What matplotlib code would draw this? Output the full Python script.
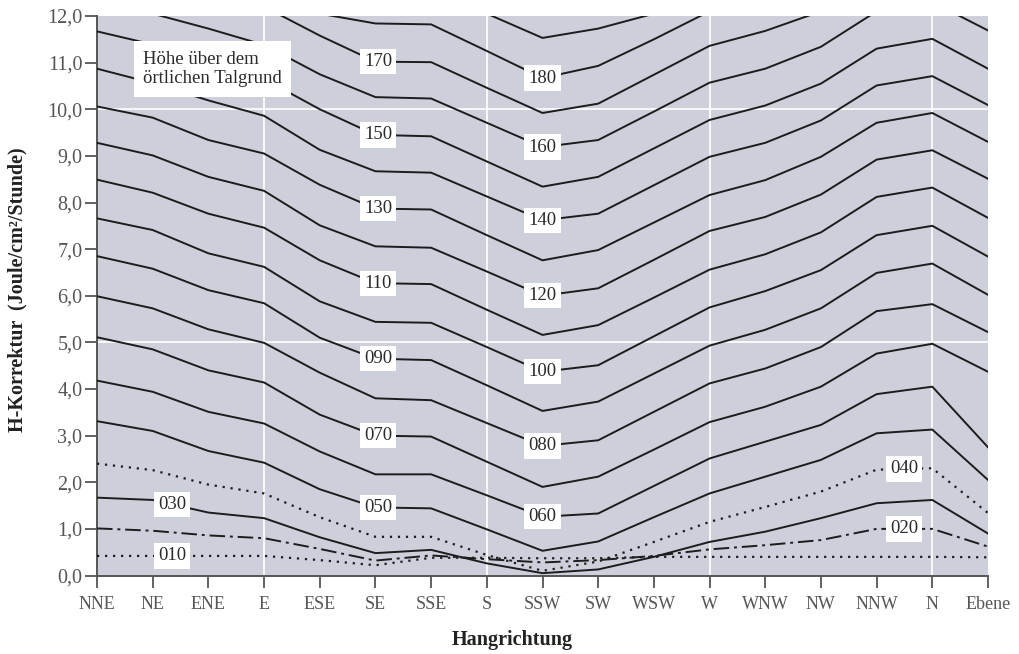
import numpy as np
import matplotlib.pyplot as plt

# Hangrichtungen (x-Achse)
richtungen = ['NNE', 'NE', 'ENE', 'E', 'ESE', 'SE', 'SSE', 'S', 'SSW',
              'SW', 'WSW', 'W', 'WNW', 'NW', 'NNW', 'N', 'Ebene']

# H-Korrektur je Höhenstufe über dem Talgrund (Joule/cm2/Stunde)
h010 = [0.42, 0.42, 0.42, 0.42, 0.33, 0.22, 0.38, 0.38, 0.37, 0.37, 0.40, 0.40, 0.40, 0.40, 0.40, 0.40, 0.39]
h020 = [1.01, 0.96, 0.86, 0.80, 0.57, 0.32, 0.43, 0.35, 0.28, 0.33, 0.42, 0.56, 0.65, 0.76, 1.00, 1.00, 0.62]
h030 = [1.67, 1.62, 1.35, 1.23, 0.82, 0.48, 0.55, 0.26, 0.05, 0.13, 0.40, 0.72, 0.94, 1.23, 1.55, 1.62, 0.90]
h040 = [2.40, 2.26, 1.95, 1.76, 1.25, 0.83, 0.83, 0.44, 0.10, 0.30, 0.72, 1.15, 1.47, 1.80, 2.27, 2.30, 1.34]
h050 = [3.31, 3.10, 2.67, 2.42, 1.85, 1.46, 1.44, 0.99, 0.53, 0.73, 1.25, 1.76, 2.12, 2.48, 3.05, 3.13, 2.05]
h060 = [4.18, 3.94, 3.51, 3.26, 2.66, 2.17, 2.17, 1.72, 1.26, 1.33, 1.92, 2.51, 2.87, 3.23, 3.89, 4.05, 2.75]
h070 = [5.11, 4.85, 4.40, 4.14, 3.45, 3.00, 2.98, 2.44, 1.90, 2.12, 2.70, 3.29, 3.62, 4.05, 4.76, 4.97, 4.37]
h080 = [5.99, 5.73, 5.28, 4.99, 4.35, 3.80, 3.76, 3.27, 2.78, 2.90, 3.51, 4.12, 4.44, 4.90, 5.67, 5.82, 5.22]
h090 = [6.85, 6.58, 6.12, 5.84, 5.10, 4.65, 4.62, 4.08, 3.53, 3.73, 4.33, 4.93, 5.27, 5.73, 6.49, 6.69, 6.02]
h100 = [7.66, 7.41, 6.91, 6.62, 5.88, 5.44, 5.42, 4.90, 4.37, 4.51, 5.13, 5.75, 6.10, 6.55, 7.30, 7.50, 6.84]
h110 = [8.49, 8.21, 7.76, 7.46, 6.76, 6.27, 6.25, 5.70, 5.16, 5.37, 5.96, 6.56, 6.89, 7.36, 8.12, 8.32, 7.67]
h120 = [9.28, 9.01, 8.55, 8.25, 7.51, 7.06, 7.03, 6.52, 6.00, 6.16, 6.77, 7.39, 7.69, 8.17, 8.92, 9.12, 8.51]
h130 = [10.06, 9.82, 9.34, 9.05, 8.38, 7.87, 7.85, 7.30, 6.76, 6.98, 7.57, 8.16, 8.48, 8.98, 9.71, 9.92, 9.30]
h140 = [10.87, 10.56, 10.19, 9.86, 9.13, 8.67, 8.64, 8.13, 7.62, 7.76, 8.37, 8.98, 9.28, 9.76, 10.51, 10.71, 10.09]
h150 = [11.67, 11.39, 10.97, 10.65, 10.00, 9.45, 9.42, 8.88, 8.34, 8.55, 9.16, 9.77, 10.08, 10.55, 11.30, 11.51, 10.87]
h160 = [12.45, 12.05, 11.73, 11.38, 10.75, 10.26, 10.23, 9.71, 9.19, 9.34, 9.95, 10.57, 10.87, 11.34, 12.10, 12.30, 11.69]
h170 = [13.20, 12.85, 12.50, 12.20, 11.58, 11.02, 11.01, 10.46, 9.92, 10.12, 10.74, 11.36, 11.68, 12.10, 12.90, 13.10, 12.50]
h180 = [14.00, 13.60, 13.30, 12.75, 12.05, 11.84, 11.82, 11.25, 10.67, 10.93, 11.50, 12.10, 12.45, 12.90, 13.70, 13.90, 13.30]
h190 = [14.80, 14.40, 14.00, 13.60, 13.00, 12.65, 12.60, 12.05, 11.53, 11.73, 12.05, 12.80, 13.10, 13.60, 14.30, 14.50, 13.90]

hoehen = ['010', '020', '030', '040', '050', '060', '070', '080', '090', '100',
          '110', '120', '130', '140', '150', '160', '170', '180', '190']
kurven = [h010, h020, h030, h040, h050, h060, h070, h080, h090, h100,
          h110, h120, h130, h140, h150, h160, h170, h180, h190]

# Beschriftete Kurven und ihre x-Position (Index der Richtung)
etiketten = [('010', 1.35), ('030', 1.35), ('020', 14.49), ('040', 14.49),
             ('050', 5.05), ('070', 5.05), ('090', 5.05), ('110', 5.05),
             ('130', 5.05), ('150', 5.05), ('170', 5.05),
             ('060', 8.0), ('080', 8.0), ('100', 8.0), ('120', 8.0),
             ('140', 8.0), ('160', 8.0), ('180', 8.0)]

plt.rcParams['font.family'] = ['Liberation Serif', 'DejaVu Serif']

fig = plt.figure(figsize=(10.19, 6.54), dpi=100)
ax = fig.add_axes([97 / 1019, 78.5 / 654, 891 / 1019, 559.5 / 654])
ax.set_facecolor('#cdd0da')

x = np.arange(len(richtungen))

# weisse Hilfslinien
for xi in [3, 7, 11, 15]:
    ax.axvline(xi, color='white', lw=1.2, zorder=1)
for yi in [5, 10]:
    ax.axhline(yi, color='white', lw=1.2, zorder=1)

stile = {'010': (0, (1, 2.6)), '040': (0, (1, 2.6)),
         '020': (0, (8, 2.5, 1.5, 2.5))}
for name, werte in zip(hoehen, kurven):
    ls = stile.get(name, '-')
    lw = 1.6 if name in ('010', '040') else 1.4
    ax.plot(x, werte, color='#1c1c1c', lw=lw, ls=ls, zorder=3)

for name, xpos in etiketten:
    werte = kurven[hoehen.index(name)]
    ax.text(xpos, np.interp(xpos, x, werte), name, ha='center', va='center',
            fontsize=13.5, color='#2a2a2a', zorder=5,
            bbox=dict(boxstyle='square,pad=0.22', fc='white', ec='none'))

ax.text(0.0516, 0.905, 'Höhe über dem\nörtlichen Talgrund', transform=ax.transAxes,
        ha='left', va='center', fontsize=13.5, color='#2a2a2a', linespacing=1.2,
        zorder=5, bbox=dict(boxstyle='square,pad=0.5', fc='white', ec='none'))

ax.set_xlim(0, 16)
ax.set_ylim(0, 12)
ax.set_xticks(x)
ax.set_xticklabels(richtungen)
yt = np.arange(0, 13)
ax.set_yticks(yt)
ax.set_yticklabels([f'{v:.1f}'.replace('.', ',') for v in yt])

for s in ['top', 'right']:
    ax.spines[s].set_visible(False)
for s in ['left', 'bottom']:
    ax.spines[s].set_color('#555555')
    ax.spines[s].set_linewidth(1.4)

ax.tick_params(axis='x', length=8.5, width=1.3, color='#555555', pad=6,
               labelsize=13, labelcolor='#555555')
ax.tick_params(axis='y', length=8.5, width=1.3, color='#555555', pad=2,
               labelsize=14.5, labelcolor='#555555')

fig.text(512 / 1019, (654 - 640) / 654, 'Hangrichtung', ha='center', va='center',
         fontsize=14.5, fontweight='bold', color='#222222')
fig.text(17 / 1019, (654 - 290) / 654, 'H-Korrektur  (Joule/cm²/Stunde)',
         ha='center', va='center', rotation=90, fontsize=14.5, fontweight='bold',
         color='#222222')

fig.savefig('out.png', dpi=100)
